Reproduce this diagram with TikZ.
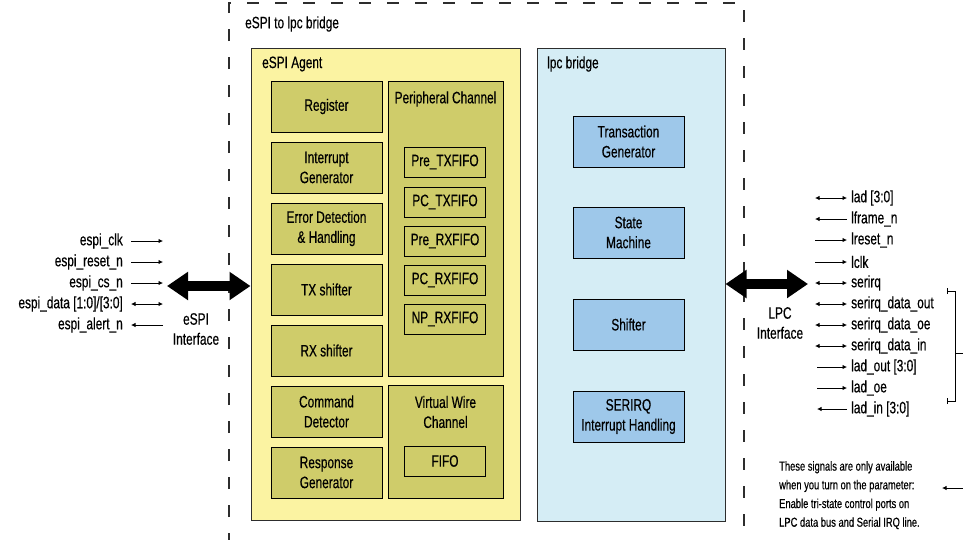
\documentclass[tikz,border=0pt]{standalone}
\usepackage{fontspec}
\setmainfont{Liberation Sans}[FakeStretch=0.72,FakeBold=0.4]
\usetikzlibrary{arrows.meta}

\definecolor{agentyellow}{RGB}{251,243,162}
\definecolor{olivebox}{RGB}{207,204,106}
\definecolor{lpcblue}{RGB}{213,237,245}
\definecolor{unitblue}{RGB}{158,200,234}
\definecolor{edgegray}{RGB}{45,45,45}

\begin{document}
\begin{tikzpicture}[x=1pt,y=-1pt,
    every node/.style={font=\fontsize{16.5}{20}\selectfont},
    outer/.style={draw=edgegray,line width=1.2pt,dash pattern=on 12pt off 16pt},
    agent/.style={draw=edgegray,fill=agentyellow,line width=1pt,minimum width=269pt,minimum height=472pt,inner sep=0pt},
    bridge/.style={draw=edgegray,fill=lpcblue,line width=1pt,minimum width=188pt,minimum height=473pt,inner sep=0pt},
    olive/.style={draw=black,fill=olivebox,line width=1pt,minimum width=111pt,minimum height=51pt,inner sep=0pt,align=center},
    chan/.style={draw=black,fill=olivebox,line width=1pt,minimum width=115pt,inner sep=0pt},
    fifo/.style={draw=black,fill=olivebox,line width=1pt,minimum width=81pt,minimum height=30pt,inner sep=0pt},
    unit/.style={draw=black,fill=unitblue,line width=1pt,minimum width=111pt,minimum height=51pt,inner sep=0pt,align=center},
    sigl/.style={anchor=east,inner sep=0pt},
    sigr/.style={anchor=west,inner sep=0pt},
    wire/.style={line width=0.8pt,-{Latex[length=4.5pt,width=4.5pt]}},
    wire2/.style={line width=0.8pt,{Latex[length=4.5pt,width=4.5pt]}-{Latex[length=4.5pt,width=4.5pt]}},
    bus/.style={line width=10pt,{Triangle[width=27pt,length=21pt]}-{Triangle[width=27pt,length=21pt]}}]
  \useasboundingbox (0,0) rectangle (963,539);

  % outer dashed frame, open at the bottom
  \draw[outer] (229,545) -- (229,3) -- (744,3) -- (744,545);
  \node[anchor=west,inner sep=0pt] (title) at (245,24) {eSPI to lpc bridge};

  % eSPI agent
  \node[agent] (agent) at (385.5,284) {};
  \node[anchor=west,inner sep=0pt] at (262,64) {eSPI Agent};
  \node[olive] (reg) at (326.5,106.5) {Register};
  \node[olive] (intgen) at (326.5,167.5) {Interrupt\\Generator};
  \node[olive] (errdet) at (326.5,228.5) {Error Detection\\\& Handling};
  \node[olive] (txs) at (326.5,289.5) {TX shifter};
  \node[olive] (rxs) at (326.5,350.5) {RX shifter};
  \node[olive] (cmddet) at (326.5,411.5) {Command\\Detector};
  \node[olive] (respgen) at (326.5,472.5) {Response\\Generator};

  \node[chan,minimum height=295pt] (pchan) at (445.5,228.5) {};
  \node (pchanlbl) at (445.5,99) {Peripheral Channel};
  \node[fifo] (pretx) at (445,162) {Pre\_TXFIFO};
  \node[fifo] (pctx) at (445,202) {PC\_TXFIFO};
  \node[fifo] (prerx) at (445,241) {Pre\_RXFIFO};
  \node[fifo] (pcrx) at (445,280) {PC\_RXFIFO};
  \node[fifo] (nprx) at (445,319) {NP\_RXFIFO};

  \node[chan,minimum height=113pt] (vwchan) at (445.5,441.5) {};
  \node[align=center,inner sep=0pt] (vwlbl) at (445.5,412) {Virtual Wire\\Channel};
  \node[fifo] (vwfifo) at (445,461) {FIFO};

  % lpc bridge
  \node[bridge] (lpc) at (631,284.5) {};
  \node[anchor=west,inner sep=0pt] at (547,64) {lpc bridge};
  \node[unit] (trans) at (628.5,141.5) {Transaction\\Generator};
  \node[unit] (fsm) at (628.5,232.5) {State\\Machine};
  \node[unit] (shft) at (628.5,324.5) {Shifter};
  \node[unit] (serirqh) at (628.5,416.5) {SERIRQ\\Interrupt Handling};

  % interfaces
  \coordinate (espiend) at (167,286);
  \draw[bus] (espiend) -- (espiend -| agent.west);
  \node[align=center,inner sep=0pt] (espiif) at (196,329) {eSPI\\Interface};
  \coordinate (lpcend) at (808,284);
  \draw[bus] (lpcend -| lpc.east) -- (lpcend);
  \node[align=center,inner sep=0pt] (lpcif) at (780,323) {LPC\\Interface};

  % eSPI signals
  \node[sigl] (clk) at (123,241) {espi\_clk};
  \node[sigl] (rst) at (123,262) {espi\_reset\_n};
  \node[sigl] (cs) at (123,283) {espi\_cs\_n};
  \node[sigl] (dat) at (123,304) {espi\_data [1:0]/[3:0]};
  \node[sigl] (alrt) at (123,325) {espi\_alert\_n};
  \draw[wire] ([xshift=8pt]clk.east) -- ++(32,0);
  \draw[wire] ([xshift=8pt]rst.east) -- ++(32,0);
  \draw[wire] ([xshift=8pt]cs.east) -- ++(32,0);
  \draw[wire2] ([xshift=8pt]dat.east) -- ++(32,0);
  \draw[wire] ([xshift=40pt]alrt.east) -- ++(-32,0);

  % LPC signals
  \node[sigr] (lad) at (851,198) {lad [3:0]};
  \node[sigr] (lframe) at (851,219) {lframe\_n};
  \node[sigr] (lreset) at (851,240) {lreset\_n};
  \node[sigr] (lclk) at (851,262) {lclk};
  \node[sigr] (serirq) at (851,283) {serirq};
  \node[sigr] (sdout) at (851,304) {serirq\_data\_out};
  \node[sigr] (sdoe) at (851,325) {serirq\_data\_oe};
  \node[sigr] (sdin) at (851,346) {serirq\_data\_in};
  \node[sigr] (ladout) at (851,367) {lad\_out [3:0]};
  \node[sigr] (ladoe) at (851,388) {lad\_oe};
  \node[sigr] (ladin) at (851,409) {lad\_in [3:0]};
  \draw[wire2] ([xshift=-36pt]lad.west) -- ++(32,0);
  \draw[wire] ([xshift=-4pt]lframe.west) -- ++(-32,0);
  \draw[wire] ([xshift=-36pt]lreset.west) -- ++(32,0);
  \draw[wire] ([xshift=-36pt]lclk.west) -- ++(32,0);
  \draw[wire2] ([xshift=-36pt]serirq.west) -- ++(32,0);
  \draw[wire2] ([xshift=-36pt]sdout.west) -- ++(32,0);
  \draw[wire2] ([xshift=-36pt]sdoe.west) -- ++(32,0);
  \draw[wire2] ([xshift=-36pt]sdin.west) -- ++(32,0);
  \draw[wire] ([xshift=-34pt]ladout.west) -- ++(30,0);
  \draw[wire] ([xshift=-34pt]ladoe.west) -- ++(30,0);
  \draw[wire] ([xshift=-4pt]ladin.west) -- ++(-30,0);

  % bracket and note
  \coordinate (brtop) at (947,291);
  \coordinate (brbot) at (947,401);
  \draw[line width=0.8pt] ([yshift=-3pt]brtop) -- ([yshift=3pt]brtop);
  \draw[line width=0.8pt] ([yshift=-3pt]brbot) -- ([yshift=3pt]brbot);
  \draw[line width=0.8pt] (brtop) -- ++(8,0) |- (brbot);
  \coordinate (brmid) at (955,353);
  \draw[line width=0.8pt] (brmid) -- ++(10,0);
  \node[anchor=north west,align=left,inner sep=0pt,font=\fontsize{13}{18.7}\selectfont] (note) at (779,461)
    {These signals are only available\\when you turn on the parameter:\\Enable tri-state control ports on\\LPC data bus and Serial IRQ line.};
  \coordinate (notearr) at (965,488);
  \draw[wire] (notearr) -- ++(-23,0);
\end{tikzpicture}
\end{document}
